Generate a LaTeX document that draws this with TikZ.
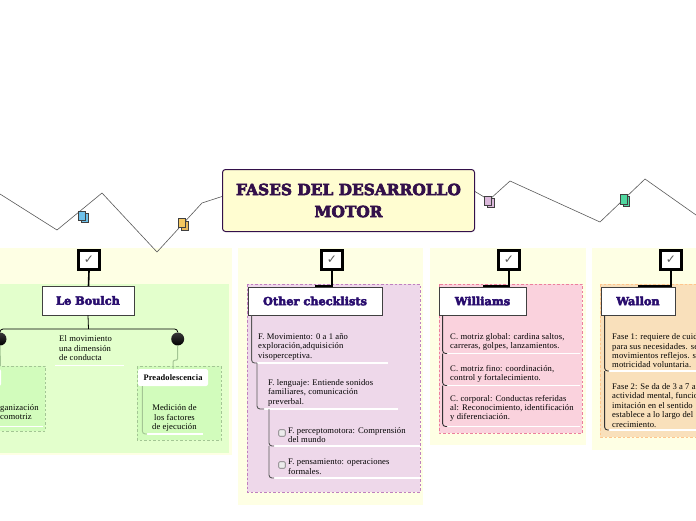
\documentclass[tikz,border=0pt]{standalone}
\usepackage{fontspec}
\usepackage{xcolor,tikz}
\usetikzlibrary{arrows.meta,positioning,calc}
\setmainfont[LetterSpace=1.5]{Liberation Serif}
\newfontfamily\headfont[UprightFont=* Bold,FakeBold=4]{DejaVu Serif}
\newfontfamily\markfont{DejaVu Sans}
\definecolor{paneltint}{HTML}{FEFFE4}
\definecolor{plum}{HTML}{33104A}
\definecolor{boxgreen}{HTML}{E3FFCC}
\definecolor{subgreen}{HTML}{D2FCBC}
\definecolor{boxlilac}{HTML}{EED8EA}
\definecolor{boxpink}{HTML}{FAD2DD}
\definecolor{boxorange}{HTML}{F9E0BB}
\definecolor{linegreen}{HTML}{A3C594}
\definecolor{dashpink}{HTML}{EC7F9C}
\definecolor{docblue}{HTML}{6EC1EA}
\definecolor{docyellow}{HTML}{F5C860}
\definecolor{docgreen}{HTML}{50D8A0}
\tikzset{
 panel/.style={fill=paneltint},
 dashbox/.style={dashed,dash pattern=on 2.5pt off 2pt,line width=0.6pt},
 chk/.style={draw=black,fill=white,line width=3pt,minimum width=21pt,minimum height=19pt,inner sep=0pt,font=\markfont\fontsize{12}{12}\selectfont,text=black!65},
 lbl/.style={draw=black!75,fill=white,line width=0.8pt,inner sep=0pt,text=plum!80!blue,font=\headfont\fontsize{11.3}{13}\selectfont},
 row/.style={anchor=south west,align=left,inner ysep=0pt,font=\fontsize{8.6}{9.4}\selectfont},
 rule/.style={draw=white,line width=1.1pt},
 stem/.style={draw=black,line width=1.6pt},
 branch/.style={draw=black!65,line width=0.9pt,rounded corners=3pt},
 zig/.style={draw=black!65,line width=0.6pt},
 doc/.style={draw=black!75,line width=0.7pt,inner sep=0pt},
 tick/.style={draw=black!55,rounded corners=1pt,fill=white!85!gray,line width=0.6pt,minimum size=6.5pt,inner sep=0pt},
 ball/.style={circle,minimum size=13pt,inner sep=0pt,top color=black!78,bottom color=black},
}
\begin{document}
\begin{tikzpicture}[x=1pt,y=-1pt,>=Stealth]
 \useasboundingbox (0,0) rectangle (696,520);
 \clip (0,0) rectangle (696,520);
 % four panels
 \fill[panel] (0,248) rectangle (232,455);
 \fill[panel] (238,248) rectangle (423,505);
 \fill[panel] (430,248) rectangle (586,445);
 \fill[panel] (592,248) rectangle (696,450);
 \fill[boxgreen] (0,284) rectangle (229,453);
 \draw[dashbox,draw=linegreen,fill=subgreen] (-5,366) rectangle (45,431);
 \draw[dashbox,draw=linegreen,fill=subgreen] (137,366) rectangle (221,440);
 \draw[dashbox,draw=violet!50,fill=boxlilac] (247,284) rectangle (420,492);
 \draw[dashbox,draw=dashpink,fill=boxpink] (439,284) rectangle (582,433);
 \draw[dashbox,draw=orange!45,fill=boxorange] (600,284) rectangle (702,437);
 % title and zigzag
 \node[draw=plum,fill=yellow!18,line width=1pt,rounded corners=3pt,minimum width=252pt,minimum height=62pt,inner sep=0pt,align=center,text=plum,font=\headfont\fontsize{15.4}{22}\selectfont] (ttl) at (348.5,200.5) {FASES DEL DESARROLLO\\MOTOR};
 \draw[zig] ([yshift=4pt]ttl.west)--(202,203)--(157,252)--(102,193)--(57,230)--(0,194);
 \draw[zig] ([yshift=9pt]ttl.east)--(489,200)--(510,181)--(600,222)--(645,179)--(696,215);
 \node[doc,fill=docblue,minimum width=7pt,minimum height=8.5pt] at (84.5,218) {};
 \node[doc,fill=docblue,minimum width=7pt,minimum height=9pt] (icb) at (81.5,215.5) {};
 \node[doc,fill=docyellow!80!brown,minimum width=7pt,minimum height=9pt] at (184.5,225.5) {};
 \node[doc,fill=docyellow,minimum width=7pt,minimum height=9.5pt] (icy) at (181.5,223) {};
 \node[doc,fill=violet!28,minimum width=7pt,minimum height=8.5pt] at (490.5,203) {};
 \node[doc,fill=violet!28,minimum width=7pt,minimum height=9pt] (icp) at (488,200.5) {};
 \node[doc,fill=docgreen,minimum width=6pt,minimum height=9.5pt] at (626,201.5) {};
 \node[doc,fill=docgreen,minimum width=7pt,minimum height=10pt] (icg) at (623.5,199.5) {};
 % check boxes
 \node[chk] (chkb) at (89,260) {✓};
 \node[chk] (chko) at (332,260) {✓};
 \node[chk] (chkw) at (509,260) {✓};
 \node[chk] (chkf) at (671,260) {✓};
 \draw[stem] (chko.south) |- (315,286);
 \draw[stem] (chkw.south) |- (483,286);
 \draw[stem] (chkf.south) |- (638,286);
 \draw[stem] (chkb.south)--(88.5,286);
 % heading boxes
 \node[lbl,minimum width=92pt,minimum height=29pt] (boulch) at (88,300.5) {Le Boulch};
 \node[lbl,minimum width=134pt,minimum height=28pt] (other) at (315,301) {Other checklists};
 \node[lbl,minimum width=87pt,minimum height=28pt] (will) at (482.5,301) {Williams};
 \node[lbl,minimum width=74pt,minimum height=28pt] (wall) at (638,301) {Wallon};
 % Le Boulch
 \node[ball] (lball) at (0,339) {};
 \node[ball] (rball) at (177.7,339) {};
 \coordinate (barb) at (88.5,329);
 \draw[draw=black,line width=0.8pt,rounded corners=3pt] (lball.north) |- (barb) -| (rball.north);
 \draw[draw=black,line width=0.8pt] (boulch.south)--(barb);
 \node[row,inner xsep=4pt,minimum height=34pt] (elmov) at (55,365.5) {El movimiento\\una dimensión\\de conducta};
 \draw[rule] (elmov.south west)--++(69,0);
 \node[draw=none,fill=white,rounded corners=2pt,minimum width=70pt,minimum height=17pt,inner sep=0pt,font=\bfseries\fontsize{8.4}{9}\selectfont] (pread) at (173,377.5) {Preadolescencia};
 \node[fill=white,rounded corners=2pt,minimum width=10pt,minimum height=17pt,inner sep=0pt] (lpre) at (-4,377.5) {};
 \draw[draw=linegreen,line width=1pt,rounded corners=2pt] (rball.south)--++(0,14.5)-|(pread.north);
 \draw[draw=linegreen,line width=1pt] (lball.south)--(0.5,366);
 \node[row,inner xsep=0pt,minimum height=28pt] (orga) at (0,426.5) {ganización\\comotriz};
 \draw[rule] (orga.south west)--++(43,0);
 \node[row,inner xsep=5pt,align=center,minimum height=40pt] (medi) at (147,438.5) {Medición de\\los factores\\de ejecución};
 \draw[rule] ([yshift=4.5pt]medi.south west)--++(56,0);
 \draw[branch,draw=linegreen] ([xshift=4.5pt]pread.south west) |- ([yshift=4.5pt]medi.south west);
 % Other checklists
 \node[row,inner xsep=1pt,minimum height=32pt] (fmov) at (257,363) {F. Movimiento: 0 a 1 año\\exploración,adquisición\\visoperceptiva.};
 \node[row,inner xsep=4pt,minimum height=32pt] (flen) at (264,409) {F. lenguaje: Entiende sonidos\\familiares, comunicación\\preverbal.};
 \node[row,inner xsep=14pt,minimum height=22pt] (fper) at (274,446) {F. perceptomotora: Comprensión\\del mundo};
 \node[row,inner xsep=14pt,minimum height=22pt] (fpen) at (274,478) {F. pensamiento: operaciones\\formales.};
 \draw[rule] (fmov.south west)--++(131,0);
 \draw[rule] (flen.south west)--++(134,0);
 \draw[rule] (fper.south west)--++(146,0);
 \draw[rule] (fpen.south west)--++(146,0);
 \draw[branch] ([xshift=4pt]other.south west) |- (fmov.south west);
 \draw[branch] (fmov.south west) |- (flen.south west);
 \draw[branch] ([xshift=5pt]flen.south west) |- (fper.south west);
 \draw[branch] ([xshift=5pt]flen.south west |- fper.south) |- (fpen.south west);
 \node[tick] (tk1) at (282,433) {};
 \node[tick] (tk2) at (282,465) {};
 % Williams
 \node[row,inner xsep=3pt,minimum height=23pt] (cglo) at (447,353.5) {C. motriz global: cardina saltos,\\carreras, golpes, lanzamientos.};
 \node[row,inner xsep=3pt,minimum height=23pt] (cfin) at (447,385.5) {C. motriz fino: coordinación,\\control y fortalecimiento.};
 \node[row,inner xsep=3pt,minimum height=36pt] (ccor) at (447,426.5) {C. corporal: Conductas referidas\\al: Reconocimiento, identificación\\y diferenciación.};
 \draw[rule] (cglo.south west)--++(133,0);
 \draw[rule] (cfin.south west)--++(133,0);
 \draw[rule] (ccor.south west)--++(133,0);
 \draw[branch,draw=black!80] ([xshift=4pt]will.south west) |- (cglo.south west);
 \draw[branch,draw=black!80] ([xshift=4pt]will.south west |- cglo.south) |- (cfin.south west);
 \draw[branch,draw=black!80] ([xshift=4pt]will.south west |- cfin.south) |- (ccor.south west);
 % Wallon
 \node[row,inner xsep=3pt,minimum height=40pt] (funo) at (609,371) {Fase 1: requiere de cuid\\para sus necesidades. se\\movimientos reflejos. s\\motricidad voluntaria.};
 \node[row,inner xsep=3pt,minimum height=49pt] (fdos) at (609,430) {Fase 2: Se da de 3 a 7 años\\actividad mental, funcio\\imitación en el sentido\\establece a lo largo del 1\\crecimiento.};
 \draw[rule] (funo.south west)--++(90,0);
 \draw[rule] (fdos.south west)--++(90,0);
 \draw[branch,draw=black!80] ([xshift=4pt]wall.south west) |- (funo.south west);
 \draw[branch,draw=black!80] ([xshift=4pt]wall.south west |- funo.south) |- (fdos.south west);
\end{tikzpicture}
\end{document}
